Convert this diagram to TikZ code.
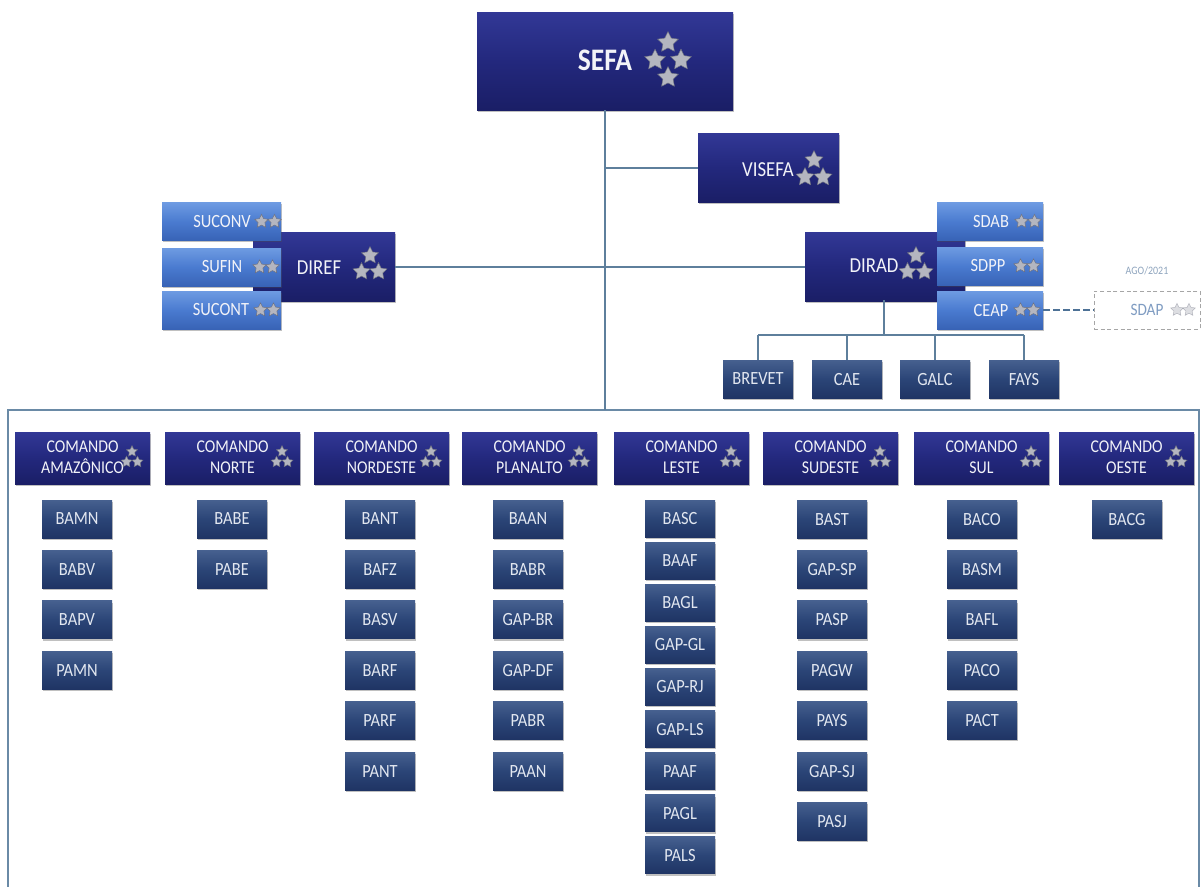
\documentclass[tikz,border=0pt]{standalone}
\usepackage{fontspec}
\setmainfont{Carlito}[FakeStretch=0.88]
\usetikzlibrary{shapes.geometric,shadows}
\definecolor{navy}{HTML}{23287D}
\definecolor{navyT}{HTML}{323896}
\definecolor{navyB}{HTML}{1A1E66}
\definecolor{slate}{HTML}{2B4577}
\definecolor{slateT}{HTML}{46608F}
\definecolor{slateB}{HTML}{1F3464}
\definecolor{lblue}{HTML}{4A7BD0}
\definecolor{lblueT}{HTML}{6E9BE2}
\definecolor{lblueB}{HTML}{3863B6}
\definecolor{linec}{HTML}{5E7F9C}
\definecolor{framec}{HTML}{6A8AA6}
\definecolor{starF}{HTML}{B4B6C0}
\definecolor{starD}{HTML}{6E7180}
\definecolor{txtc}{HTML}{F2F3F8}
\definecolor{subtxt}{HTML}{E2E7F0}
\definecolor{fadec}{HTML}{7F9CC2}
\definecolor{agoc}{HTML}{8FA5BE}
\definecolor{dashc}{HTML}{4D7196}
\tikzset{
  shad/.style={drop shadow={shadow xshift=0.8pt,shadow yshift=-1.4pt,opacity=0.35,fill=black!70}},
  navybox/.style={rectangle,inner sep=0pt,shad,top color=navyT,bottom color=navyB,middle color=navy},
  slatebox/.style={rectangle,inner sep=0pt,shad,top color=slateT,bottom color=slateB,middle color=slate},
  lightbox/.style={rectangle,inner sep=0pt,shad,top color=lblueT,bottom color=lblueB,middle color=lblue},
  lbl/.style={inner sep=0pt,text=txtc,align=center},
  sub/.style={slatebox,minimum width=52.5pt,minimum height=28.5pt,text=subtxt,font=\fontsize{14}{16}\selectfont},
  cmd/.style={navybox,minimum width=101.25pt,minimum height=39pt},
  cmdtxt/.style={lbl,font=\fontsize{13.5}{15.5}\selectfont},
  sbox/.style={lightbox,minimum width=89.25pt,minimum height=28.5pt},
  rbox/.style={lightbox,minimum width=79.5pt,minimum height=28.5pt},
  smalltxt/.style={lbl,font=\fontsize{14}{16}\selectfont},
  conn/.style={draw=linec,line width=1.5pt},
  st/.style={star,star points=5,star point ratio=2.0,inner sep=0pt,minimum size=#1,fill=starF,draw=starD,line width=0.35pt},
  pics/threestars/.style={code={
    \node[st={1.05*#1*0.75pt}] (-t) at (0,{-0.5*#1}) {};
    \node[st={1.05*#1*0.75pt}] (-l) at ({-0.5*#1},{0.45*#1}) {};
    \node[st={1.05*#1*0.75pt}] (-r) at ({0.5*#1},{0.45*#1}) {};}},
  pics/twostars/.style={code={
    \node[st={1.1*#1*0.75pt}] (-l) at ({-0.5*#1},0) {};
    \node[st={1.1*#1*0.75pt}] (-r) at ({0.5*#1},0) {};}},
  pics/fourstars/.style={code={
    \node[st={0.62*#1*0.75pt}] (-t) at (0,{-0.5*#1}) {};
    \node[st={0.62*#1*0.75pt}] (-l) at ({-0.37*#1},0) {};
    \node[st={0.62*#1*0.75pt}] (-r) at ({0.37*#1},0) {};
    \node[st={0.62*#1*0.75pt}] (-b) at (0,{0.5*#1}) {};}},
}
\begin{document}
\begin{tikzpicture}[x=0.75pt,y=-0.75pt]
\clip (0,0) rectangle (1203,886);
\fill[white] (0,0) rectangle (1203,886);
% frame
\coordinate (fbl) at (8,900);
\coordinate (ftl) at (8,410);
\coordinate (ftr) at (1199,410);
\coordinate (fbr) at (1199,900);
\draw[draw=framec,line width=1.5pt] (fbl) -- (ftl) -- (ftr) -- (fbr);

% top
\node[navybox,minimum width=192pt,minimum height=73.5pt] (sefa) at (605,61) {};
\node[lbl,font=\bfseries\fontsize{23.5}{26}\selectfont] (sefaT) at (605,60) {SEFA};
\pic (sefaS) at (668,60) {fourstars=35};

\node[navybox,minimum width=105.75pt,minimum height=51.75pt] (visefa) at (768.5,167.5) {};
\node[lbl,font=\fontsize{16}{18}\selectfont] (visefaT) at (768,170) {VISEFA};
\pic (visefaS) at (814,169) {threestars=18};

% connectors
\coordinate (ftop) at (605,410);
\draw[conn] (sefa.south) -- (ftop);
\draw[conn] (sefa.south |- visefa.west) -- (visefa.west);

% DIREF group
\node[navybox,minimum width=106.5pt,minimum height=51.75pt] (diref) at (324,266.5) {};
\node[lbl,font=\fontsize{16}{18}\selectfont] (direfT) at (319,268) {DIREF};
\pic (direfS) at (370,264) {threestars=17};
\node[sbox] (suconv) at (221.5,221.5) {};
\node[sbox] (sufin) at (221.5,267) {};
\node[sbox] (sucont) at (221.5,310) {};
\node[smalltxt] (suconvT) at (222,221.5) {SUCONV};
\node[smalltxt] (sufinT) at (222,267) {SUFIN};
\node[smalltxt] (sucontT) at (221,310) {SUCONT};
\pic (suconvS) at (268,221.5) {twostars=13};
\pic (sufinS) at (266,267) {twostars=13};
\pic (sucontS) at (267,310) {twostars=13};

% DIRAD group
\node[navybox,minimum width=120pt,minimum height=51.75pt] (dirad) at (885,266.5) {};
\node[lbl,font=\fontsize{16}{18}\selectfont] (diradT) at (874,266) {DIRAD};
\pic (diradS) at (916,264) {threestars=17};
\node[rbox] (sdab) at (990,221.5) {};
\node[rbox] (sdpp) at (990,266) {};
\node[rbox] (ceap) at (990,310) {};
\node[smalltxt] (sdabT) at (991,221.5) {SDAB};
\node[smalltxt] (sdppT) at (988,265) {SDPP};
\node[smalltxt] (ceapT) at (991,310) {CEAP};
\pic (sdabS) at (1028,221.5) {twostars=13};
\pic (sdppS) at (1027,266) {twostars=13};
\pic (ceapS) at (1027,310) {twostars=13};

\draw[conn] (diref.east) -- (dirad.west);

% SDAP
\node[draw=gray!70,densely dashed,line width=0.6pt,fill=white,minimum width=79.5pt,minimum height=28.5pt,inner sep=0pt] (sdap) at (1147,310) {};
\node[inner sep=0pt,text=fadec,font=\fontsize{13}{15}\selectfont] (sdapT) at (1147,310) {SDAP};
\pic[opacity=0.45] (sdapS) at (1183,310) {twostars=12};
\node[inner sep=0pt,text=agoc,font=\fontsize{8.5}{10}\selectfont] (ago) at (1147,271) {AGO/2021};
\draw[draw=dashc,line width=1.6pt,dash pattern=on 5pt off 2.5pt] (ceap.east) -- (sdap.west);

% DIRAD children
\node[sub,minimum height=28.5pt] (brevet) at (758,379) {BREVET};
\node[sub] (cae) at (847,379) {CAE};
\node[sub] (galc) at (935,379) {GALC};
\node[sub] (fays) at (1024,379) {FAYS};
\coordinate (bus) at (884,335);
\draw[conn] (884,300) -- (bus);
\draw[conn] (brevet.north |- bus) -- (fays.north |- bus);
\foreach \n in {brevet,cae,galc,fays} \draw[conn] (\n.north |- bus) -- (\n.north);

% commands
\foreach \x/\nm/\t in {82.5/amaz/AMAZÔNICO, 232.5/norte/NORTE, 381.5/nordeste/NORDESTE, 529.5/planalto/PLANALTO, 681.5/leste/LESTE, 830.5/sudeste/SUDESTE, 981.5/sul/SUL, 1126.5/oeste/OESTE}{
  \node[cmd] (\nm) at (\x,458) {};
  \node[cmdtxt] (\nm T) at (\x,457.5) {COMANDO\\\t};
  \pic (\nm S) at ({\x+67.5-18},457) {threestars=11};
}

% sub units
\foreach \t [count=\i] in {BAMN,BABV,BAPV,PAMN}
  \node[sub] (amaz-\i) at (77,{519+50.4*(\i-1)}) {\t};
\foreach \t [count=\i] in {BABE,PABE}
  \node[sub] (norte-\i) at (232,{519+50.4*(\i-1)}) {\t};
\foreach \t [count=\i] in {BANT,BAFZ,BASV,BARF,PARF,PANT}
  \node[sub] (nordeste-\i) at (380,{519+50.4*(\i-1)}) {\t};
\foreach \t [count=\i] in {BAAN,BABR,GAP-BR,GAP-DF,PABR,PAAN}
  \node[sub] (planalto-\i) at (528,{519+50.4*(\i-1)}) {\t};
\foreach \t [count=\i] in {BASC,BAAF,BAGL,GAP-GL,GAP-RJ,GAP-LS,PAAF,PAGL,PALS}
  \node[sub,minimum height=27.75pt] (leste-\i) at (680,{518.5+42.1*(\i-1)}) {\t};
\foreach \t [count=\i] in {BAST,GAP-SP,PASP,PAGW,PAYS,GAP-SJ,PASJ}
  \node[sub] (sudeste-\i) at (832,{519+50.4*(\i-1)}) {\t};
\foreach \t [count=\i] in {BACO,BASM,BAFL,PACO,PACT}
  \node[sub] (sul-\i) at (982,{519+50.4*(\i-1)}) {\t};
\node[sub] (oeste-1) at (1127,519) {BACG};
\end{tikzpicture}
\end{document}
